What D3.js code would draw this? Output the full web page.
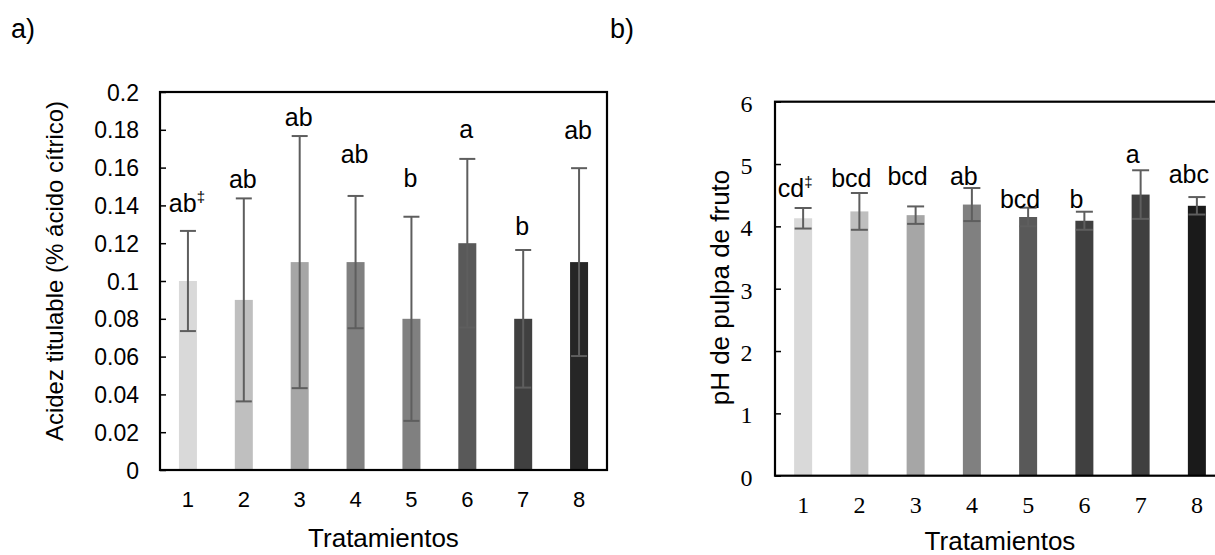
<!DOCTYPE html>
<html>
<head>
<meta charset="utf-8">
<script src="https://cdn.jsdelivr.net/npm/d3@7"></script>
<style>
  html, body { margin: 0; padding: 0; background: #fff; }
  svg { display: block; }
</style>
</head>
<body>
<svg id="chart" width="1215" height="555"></svg>
<script>
// ---------- DATA ----------
const categories = ["1", "2", "3", "4", "5", "6", "7", "8"];

// Panel a) Acidez titulable
const acidezMean = [0.100, 0.090, 0.110, 0.110, 0.080, 0.120, 0.080, 0.110];
const acidezErr  = [0.0265, 0.0537, 0.0667, 0.0350, 0.0540, 0.0446, 0.0364, 0.0497];
const acidezLetters = ["ab", "ab", "ab", "ab", "b", "a", "b", "ab"];
const acidezLetterAt = [0.1367, 0.1490, 0.1822, 0.1623, 0.1496, 0.1755, 0.1243, 0.1750];
const acidezTicks = [0, 0.02, 0.04, 0.06, 0.08, 0.1, 0.12, 0.14, 0.16, 0.18, 0.2];
const acidezColors = ["#d9d9d9", "#bfbfbf", "#a6a6a6", "#808080", "#808080", "#595959", "#404040", "#262626"];

// Panel b) pH de pulpa de fruto
const phMean = [4.13, 4.24, 4.18, 4.35, 4.15, 4.09, 4.51, 4.33];
const phErr  = [0.165, 0.295, 0.140, 0.265, 0.150, 0.145, 0.390, 0.140];
const phLetters = ["cd", "bcd", "bcd", "ab", "bcd", "b", "a", "abc"];
const phLetterAt = [4.476, 4.627, 4.664, 4.664, 4.290, 4.290, 5.010, 4.690];
const phTicks = [0, 1, 2, 3, 4, 5, 6];
const phColors = ["#d9d9d9", "#bfbfbf", "#a6a6a6", "#808080", "#595959", "#404040", "#404040", "#1a1a1a"];

const dagger = "\u2021";

// ---------- DRAW ----------
const svg = d3.select("#chart");
const SANS = "'Liberation Sans', Arial, sans-serif";
const SERIF = "'Liberation Serif', 'Times New Roman', serif";

function panel(cfg) {
  const g = svg.append("g");
  const x = d3.scaleBand().domain(categories).range([cfg.left, cfg.right]).padding(0);
  const y = d3.scaleLinear().domain([cfg.ticks[0], cfg.ticks[cfg.ticks.length - 1]]).range([cfg.bottom, cfg.top]);
  const cx = c => x(c) + x.bandwidth() / 2;
  const data = categories.map((c, i) => ({
    c, v: cfg.mean[i], e: cfg.err[i], letter: cfg.letters[i], at: cfg.letterAt[i], color: cfg.colors[i], i
  }));

  // bars
  g.selectAll("rect.bar").data(data).enter().append("rect")
    .attr("class", "bar")
    .attr("x", d => cx(d.c) - cfg.barW / 2)
    .attr("width", cfg.barW)
    .attr("y", d => y(d.v))
    .attr("height", d => y(0) - y(d.v))
    .attr("fill", d => d.color);

  // error bars
  const eb = g.selectAll("g.err").data(data).enter().append("g")
    .attr("stroke", "#5e5e5e").attr("stroke-width", 2).attr("fill", "none");
  eb.append("line")
    .attr("x1", d => cx(d.c)).attr("x2", d => cx(d.c))
    .attr("y1", d => y(d.v - d.e)).attr("y2", d => y(d.v + d.e));
  eb.append("line")
    .attr("x1", d => cx(d.c) - cfg.capW / 2).attr("x2", d => cx(d.c) + cfg.capW / 2)
    .attr("y1", d => y(d.v + d.e)).attr("y2", d => y(d.v + d.e));
  eb.append("line")
    .attr("x1", d => cx(d.c) - cfg.capW / 2).attr("x2", d => cx(d.c) + cfg.capW / 2)
    .attr("y1", d => y(d.v - d.e)).attr("y2", d => y(d.v - d.e));

  // box
  g.append("rect")
    .attr("x", cfg.left).attr("y", cfg.top)
    .attr("width", cfg.right - cfg.left).attr("height", cfg.bottom - cfg.top)
    .attr("fill", "none").attr("stroke", "#000").attr("stroke-width", 2.2);

  // y axis (inward ticks)
  const ya = g.append("g").attr("transform", `translate(${cfg.left},0)`)
    .call(d3.axisLeft(y).tickValues(cfg.ticks).tickFormat(d => String(d)).tickSize(-6).tickPadding(cfg.yPad));
  ya.select(".domain").remove();
  ya.selectAll(".tick line").attr("stroke", "#000").attr("stroke-width", 1.5);
  ya.selectAll(".tick text").attr("font-family", cfg.tickFont).attr("font-size", cfg.yTickSize)
    .attr("fill", "#000").attr("dy", cfg.yDy);

  // x axis
  const xa = g.append("g").attr("transform", `translate(0,${cfg.bottom})`)
    .call(d3.axisBottom(x).tickSize(0).tickPadding(cfg.xPad));
  xa.select(".domain").remove();
  xa.selectAll(".tick text").attr("font-family", cfg.tickFont).attr("font-size", cfg.xTickSize).attr("fill", "#000");

  // letters
  const lt = g.selectAll("text.letter").data(data).enter().append("text")
    .attr("class", "letter")
    .attr("x", d => cx(d.c) + cfg.letterDx)
    .attr("y", d => y(d.at))
    .attr("text-anchor", "middle")
    .attr("font-family", SANS).attr("font-size", 25).attr("fill", "#000");
  lt.append("tspan").text(d => d.letter);
  lt.filter(d => d.i === 0).append("tspan")
    .attr("font-size", 15).attr("dy", -10).text(dagger);

  // axis titles
  g.append("text")
    .attr("transform", `translate(${cfg.yTitleX},${cfg.yTitleY}) rotate(-90)`)
    .attr("text-anchor", "middle")
    .attr("font-family", SANS).attr("font-size", cfg.yTitleSize).attr("fill", "#000")
    .text(cfg.yTitle);
  g.append("text")
    .attr("x", (cfg.left + cfg.right) / 2).attr("y", cfg.xTitleY)
    .attr("text-anchor", "middle")
    .attr("font-family", SANS).attr("font-size", 26).attr("fill", "#000")
    .text("Tratamientos");

  // panel label
  svg.append("text")
    .attr("x", cfg.labelX).attr("y", 38)
    .attr("font-family", SANS).attr("font-size", 27).attr("fill", "#000")
    .text(cfg.label);
}

panel({
  left: 160, right: 607, top: 92, bottom: 470,
  ticks: acidezTicks, mean: acidezMean, err: acidezErr,
  letters: acidezLetters, letterAt: acidezLetterAt, colors: acidezColors,
  barW: 18, capW: 16, letterDx: -1,
  tickFont: SANS, yTickSize: 23, xTickSize: 22, yPad: 21, yDy: "0.35em", xPad: 21,
  yTitle: "Acidez titulable (% ácido cítrico)", yTitleSize: 24, yTitleX: 63, yTitleY: 271,
  xTitleY: 546.5, label: "a)", labelX: 11
});

panel({
  left: 775, right: 1225, top: 101.7, bottom: 475.7,
  ticks: phTicks, mean: phMean, err: phErr,
  letters: phLetters, letterAt: phLetterAt, colors: phColors,
  barW: 18, capW: 17, letterDx: -8,
  tickFont: SERIF, yTickSize: 24, xTickSize: 24, yPad: 22.5, yDy: "0.4em", xPad: 20,
  yTitle: "pH de pulpa de fruto", yTitleSize: 26, yTitleX: 729, yTitleY: 287.5,
  xTitleY: 549.5, label: "b)", labelX: 610
});
</script>
</body>
</html>
